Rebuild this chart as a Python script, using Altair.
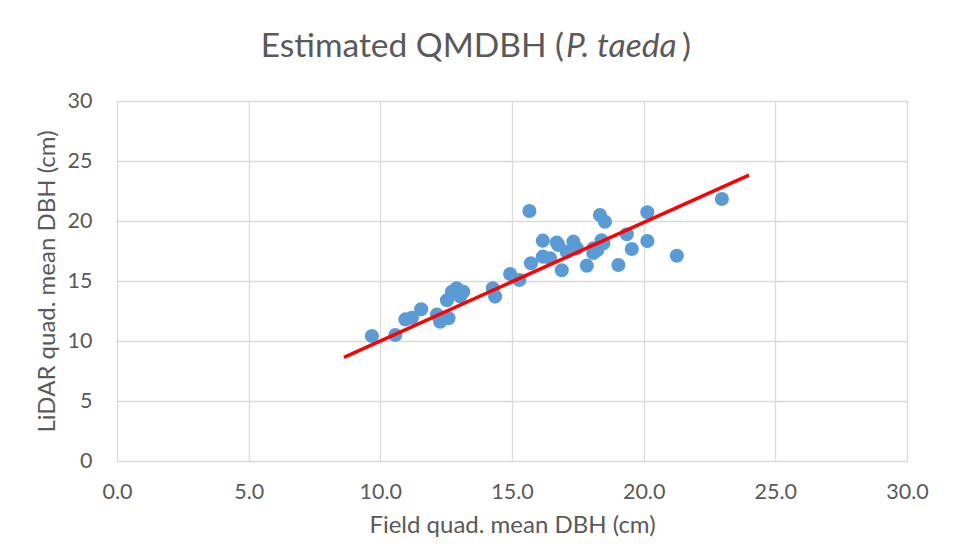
import altair as alt
import pandas as pd

# Field (x) vs LiDAR (y) quadratic mean DBH, cm
field_qmd = [9.68, 10.57, 10.95, 11.2, 11.55, 12.15, 12.27, 12.59, 12.53, 12.72,
             12.9, 13.15, 13.03, 14.27, 14.36, 14.93, 15.28, 15.66, 15.72, 16.17,
             16.17, 16.44, 16.76, 16.7, 16.89, 17.08, 17.33, 17.46, 17.84, 18.09,
             18.09, 18.24, 18.4, 18.34, 18.53, 18.47, 19.04, 19.36, 19.55, 20.14,
             20.14, 21.26, 22.97]
lidar_qmd = [10.42, 10.5, 11.8, 11.94, 12.64, 12.2, 11.6, 11.9, 13.4, 14.1,
             14.4, 14.1, 13.7, 14.4, 13.7, 15.58, 15.08, 20.83, 16.48, 18.36,
             17.03, 16.9, 18.0, 18.2, 15.9, 17.44, 18.28, 17.73, 16.28, 17.73,
             17.33, 17.58, 18.4, 20.5, 19.94, 18.14, 16.33, 18.9, 17.67, 20.73,
             18.33, 17.1, 21.83]

# Linear trend line end points
trend_x = [8.62, 24.0]
trend_y = [8.64, 23.83]

title_parts = ["Estimated QMDBH (", "P. taeda", ")"]

pts = pd.DataFrame({"field": field_qmd, "lidar": lidar_qmd})
trend = pd.DataFrame({"field": trend_x, "lidar": trend_y})

FONT = "Lato"
GREY = "#595959"

xscale = alt.Scale(domain=[0, 30], nice=False, zero=True)
yscale = alt.Scale(domain=[0, 30], nice=False, zero=True)

xaxis = alt.Axis(title="Field quad. mean DBH (cm)", values=[0, 5, 10, 15, 20, 25, 30],
                 format=".1f", grid=True, gridColor="#D9D9D9", gridWidth=1.3,
                 domain=False, ticks=False, labelFlush=False, labelPadding=20,
                 labelFontSize=21.5, labelColor=GREY, labelFont=FONT,
                 titleFont=FONT, titleFontSize=24, titleColor=GREY,
                 titleFontWeight="normal", titlePadding=11)
yaxis = alt.Axis(title="LiDAR quad. mean DBH (cm)", values=[0, 5, 10, 15, 20, 25, 30],
                 format="d", grid=True, gridColor="#D9D9D9", gridWidth=1.3,
                 domain=False, ticks=False, labelFlush=False, labelPadding=25,
                 labelFontSize=21.5, labelColor=GREY, labelFont=FONT,
                 titleFont=FONT, titleFontSize=24, titleColor=GREY,
                 titleFontWeight="normal", titlePadding=8)

points = alt.Chart(pts).mark_circle(size=200, color="#5B9BD5", opacity=1).encode(
    x=alt.X("field:Q", scale=xscale, axis=xaxis),
    y=alt.Y("lidar:Q", scale=yscale, axis=yaxis),
)

line = alt.Chart(trend).mark_line(color="#FF0000", strokeWidth=3.5).encode(
    x=alt.X("field:Q", scale=xscale),
    y=alt.Y("lidar:Q", scale=yscale),
)

base_t = alt.Chart(pd.DataFrame({"t": [0]}))
t1 = base_t.mark_text(text=title_parts[0], align="right", baseline="alphabetic",
                      font=FONT, fontSize=33.5, color=GREY).encode(
    x=alt.value(447), y=alt.value(-44))
t2 = base_t.mark_text(text=title_parts[1], align="left", baseline="alphabetic",
                      font=FONT, fontSize=33.5, fontStyle="italic", color=GREY).encode(
    x=alt.value(449), y=alt.value(-44))
t3 = base_t.mark_text(text=title_parts[2], align="left", baseline="alphabetic",
                      font=FONT, fontSize=33.5, color=GREY).encode(
    x=alt.value(565), y=alt.value(-44))

chart = alt.layer(points, line, t1, t2, t3).properties(
    width=790, height=360,
    autosize=alt.AutoSizeParams(type="none"),
    padding={"left": 109, "top": 93, "right": 45, "bottom": 80},
).configure_view(stroke=None).configure(background="white")

chart.save("out.html", embed_options={"renderer": "svg", "actions": False})
